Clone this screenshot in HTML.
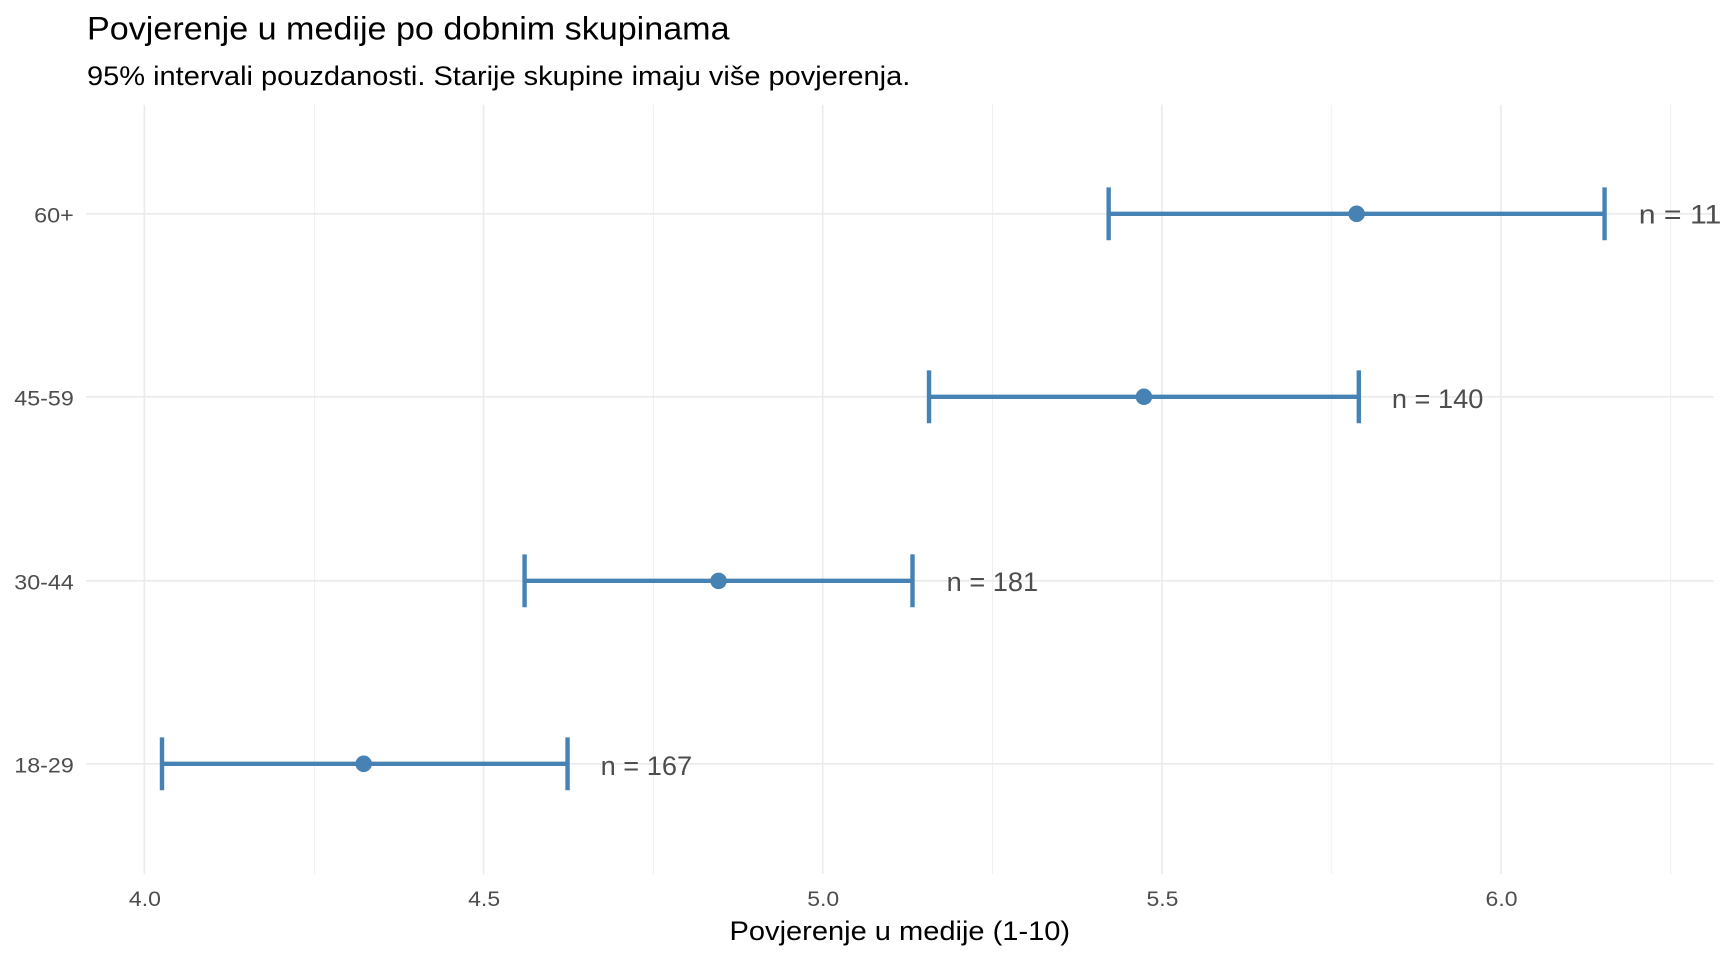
<!DOCTYPE html>
<html><head><meta charset="utf-8"><style>html,body{margin:0;padding:0;background:#fff;overflow:hidden}svg{display:block}</style></head>
<body>
<svg width="1728" height="960" viewBox="0 0 1568 871" preserveAspectRatio="none" xmlns="http://www.w3.org/2000/svg" font-family="Liberation Sans, sans-serif">
<rect width="1568" height="871" fill="#fff"/>
<g stroke="#f0f0f0" stroke-width="1">
<line x1="285.4" y1="95" x2="285.4" y2="793"/><line x1="592.9" y1="95" x2="592.9" y2="793"/><line x1="900.6" y1="95" x2="900.6" y2="793"/><line x1="1208.4" y1="95" x2="1208.4" y2="793"/><line x1="1516" y1="95" x2="1516" y2="793"/>
</g>
<g stroke="#ebebeb" stroke-width="1.5">
<line x1="131" y1="95" x2="131" y2="793"/><line x1="438.8" y1="95" x2="438.8" y2="793"/><line x1="746.5" y1="95" x2="746.5" y2="793"/><line x1="1054.3" y1="95" x2="1054.3" y2="793"/><line x1="1362" y1="95" x2="1362" y2="793"/>
<line x1="78" y1="194" x2="1555" y2="194"/><line x1="78" y1="360" x2="1555" y2="360"/><line x1="78" y1="527" x2="1555" y2="527"/><line x1="78" y1="693" x2="1555" y2="693"/>
</g>
<g stroke="#4682B4" stroke-width="4" fill="#4682B4">
<line x1="1006" y1="194" x2="1456" y2="194"/><line x1="1006" y1="170" x2="1006" y2="218"/><line x1="1456" y1="170" x2="1456" y2="218"/><circle cx="1231" cy="194" r="7.5" stroke="none"/>
<line x1="843" y1="360" x2="1233" y2="360"/><line x1="843" y1="336" x2="843" y2="384"/><line x1="1233" y1="336" x2="1233" y2="384"/><circle cx="1038" cy="360" r="7.5" stroke="none"/>
<line x1="476" y1="527" x2="828" y2="527"/><line x1="476" y1="503" x2="476" y2="551"/><line x1="828" y1="503" x2="828" y2="551"/><circle cx="652" cy="527" r="7.5" stroke="none"/>
<line x1="147" y1="693" x2="515" y2="693"/><line x1="147" y1="669" x2="147" y2="717"/><line x1="515" y1="669" x2="515" y2="717"/><circle cx="330" cy="693" r="7.5" stroke="none"/>
</g>
<g fill="#4d4d4d" font-size="24" lengthAdjust="spacingAndGlyphs">
<text x="1487" y="203" textLength="75" lengthAdjust="spacingAndGlyphs">n = 11</text><text x="1263" y="370" textLength="83" lengthAdjust="spacingAndGlyphs">n = 140</text><text x="859" y="536" textLength="83" lengthAdjust="spacingAndGlyphs">n = 181</text><text x="545" y="703" textLength="83" lengthAdjust="spacingAndGlyphs">n = 167</text>
</g>
<g fill="#4d4d4d" font-size="19">
<text x="31" y="202" textLength="36" lengthAdjust="spacingAndGlyphs">60+</text><text x="13" y="368" textLength="54" lengthAdjust="spacingAndGlyphs">45-59</text><text x="13" y="535" textLength="54" lengthAdjust="spacingAndGlyphs">30-44</text><text x="13" y="701" textLength="54" lengthAdjust="spacingAndGlyphs">18-29</text>
</g>
<g fill="#4d4d4d" font-size="19">
<text x="117" y="822" textLength="29" lengthAdjust="spacingAndGlyphs">4.0</text><text x="424.8" y="822" textLength="29" lengthAdjust="spacingAndGlyphs">4.5</text><text x="732.5" y="822" textLength="29" lengthAdjust="spacingAndGlyphs">5.0</text><text x="1040.3" y="822" textLength="29" lengthAdjust="spacingAndGlyphs">5.5</text><text x="1348" y="822" textLength="29" lengthAdjust="spacingAndGlyphs">6.0</text>
</g>
<text x="662" y="853" font-size="24" fill="#000" textLength="309" lengthAdjust="spacingAndGlyphs">Povjerenje u medije (1-10)</text>
<text x="79" y="36" font-size="29" fill="#000" textLength="583" lengthAdjust="spacingAndGlyphs">Povjerenje u medije po dobnim skupinama</text>
<text x="79" y="77" font-size="24" fill="#000" textLength="747" lengthAdjust="spacingAndGlyphs">95% intervali pouzdanosti. Starije skupine imaju više povjerenja.</text>
</svg>
</body></html>
